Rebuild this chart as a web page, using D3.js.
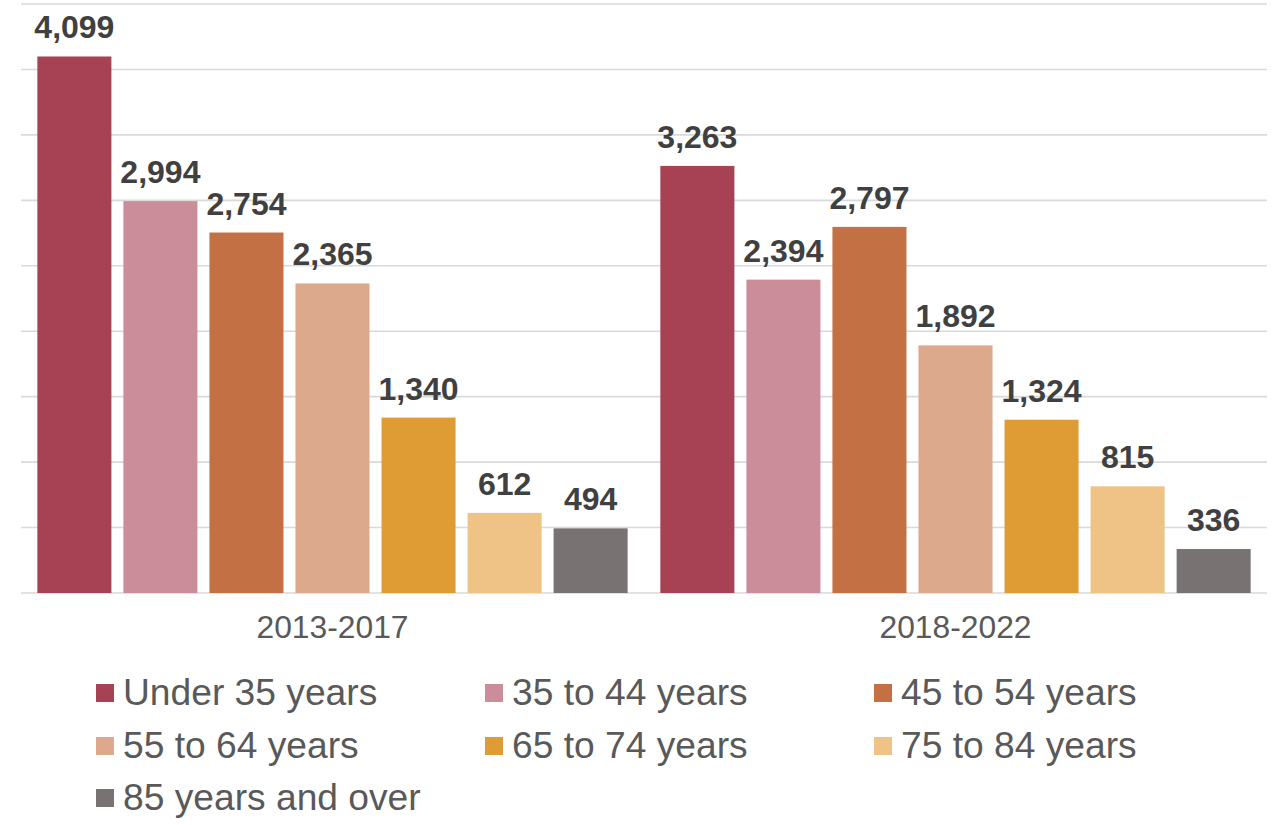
<!DOCTYPE html>
<html>
<head>
<meta charset="utf-8">
<script src="https://cdn.jsdelivr.net/npm/d3@7"></script>
<style>
  html, body { margin: 0; padding: 0; background: #ffffff; }
  svg { display: block; }
</style>
</head>
<body>
<svg id="chart" width="1274" height="825"></svg>
<script>
// Households by age of householder, two five-year periods
const periods = ["2013-2017", "2018-2022"];
const ageGroups = [
  "Under 35 years", "35 to 44 years", "45 to 54 years",
  "55 to 64 years", "65 to 74 years", "75 to 84 years", "85 years and over"
];
const values2013_2017 = [4099, 2994, 2754, 2365, 1340, 612, 494];
const values2018_2022 = [3263, 2394, 2797, 1892, 1324, 815, 336];
const gridTicks = [0, 500, 1000, 1500, 2000, 2500, 3000, 3500, 4000, 4500];
const colors = ["#A64253", "#CB8D99", "#C27044", "#DCA98D", "#E09C34", "#EEC385", "#787372"];

const seriesByPeriod = [values2013_2017, values2018_2022];
const rows = periods.map((p, i) => ({
  period: p,
  bars: ageGroups.map((g, j) => ({ group: g, value: seriesByPeriod[i][j] }))
}));

const svg = d3.select("#chart");
const plotLeft = 21, plotRight = 1267, plotTop = 4, plotBottom = 593;

const x0 = d3.scaleBand().domain(periods).range([plotLeft, plotRight]).padding(0);
const x1 = d3.scaleBand().domain(ageGroups).range([0, x0.bandwidth()])
  .paddingInner(12 / 86).paddingOuter(0.19);
const y = d3.scaleLinear().domain([0, 4500]).range([plotBottom, plotTop]);
const color = d3.scaleOrdinal().domain(ageGroups).range(colors);

// Horizontal gridlines
svg.append("g")
  .selectAll("line")
  .data(gridTicks)
  .join("line")
  .attr("x1", plotLeft).attr("x2", plotRight)
  .attr("y1", d => y(d)).attr("y2", d => y(d))
  .attr("stroke", "#D9D9D9")
  .attr("stroke-width", 1.6);

// Bars and value labels
const groups = svg.append("g")
  .selectAll("g")
  .data(rows)
  .join("g")
  .attr("transform", d => `translate(${x0(d.period)},0)`);

groups.selectAll("rect")
  .data(d => d.bars)
  .join("rect")
  .attr("x", d => x1(d.group))
  .attr("width", x1.bandwidth())
  .attr("y", d => y(d.value))
  .attr("height", d => y(0) - y(d.value))
  .attr("fill", d => color(d.group));

groups.selectAll("text")
  .data(d => d.bars)
  .join("text")
  .attr("x", d => x1(d.group) + x1.bandwidth() / 2)
  .attr("y", d => y(d.value) - 18)
  .attr("text-anchor", "middle")
  .attr("font-family", "Liberation Sans, Arial, sans-serif")
  .attr("font-weight", "bold")
  .attr("font-size", "32px")
  .attr("fill", "#404040")
  .text(d => d3.format(",")(d.value));

// Period labels on the category axis
const xAxis = svg.append("g")
  .attr("transform", `translate(0,${plotBottom})`)
  .call(d3.axisBottom(x0).tickSize(0).tickPadding(0));
xAxis.select(".domain").remove();
xAxis.selectAll("text")
  .attr("dy", 0)
  .attr("y", 45)
  .attr("font-family", "Liberation Sans, Arial, sans-serif")
  .attr("font-size", "31.8px")
  .attr("fill", "#595959");

// Legend: three columns
const legend = svg.append("g");
const colX = [96, 485, 874];
const rowY = [705, 758, 810];
const items = legend.selectAll("g")
  .data(ageGroups)
  .join("g")
  .attr("transform", (d, i) => `translate(${colX[i % 3]},${rowY[Math.floor(i / 3)]})`);
items.append("rect")
  .attr("x", 0).attr("y", -21)
  .attr("width", 18).attr("height", 18)
  .attr("fill", d => color(d));
items.append("text")
  .attr("x", 27).attr("y", 0)
  .attr("font-family", "Liberation Sans, Arial, sans-serif")
  .attr("font-size", "37.2px")
  .attr("fill", "#595959")
  .text(d => d);
</script>
</body>
</html>
